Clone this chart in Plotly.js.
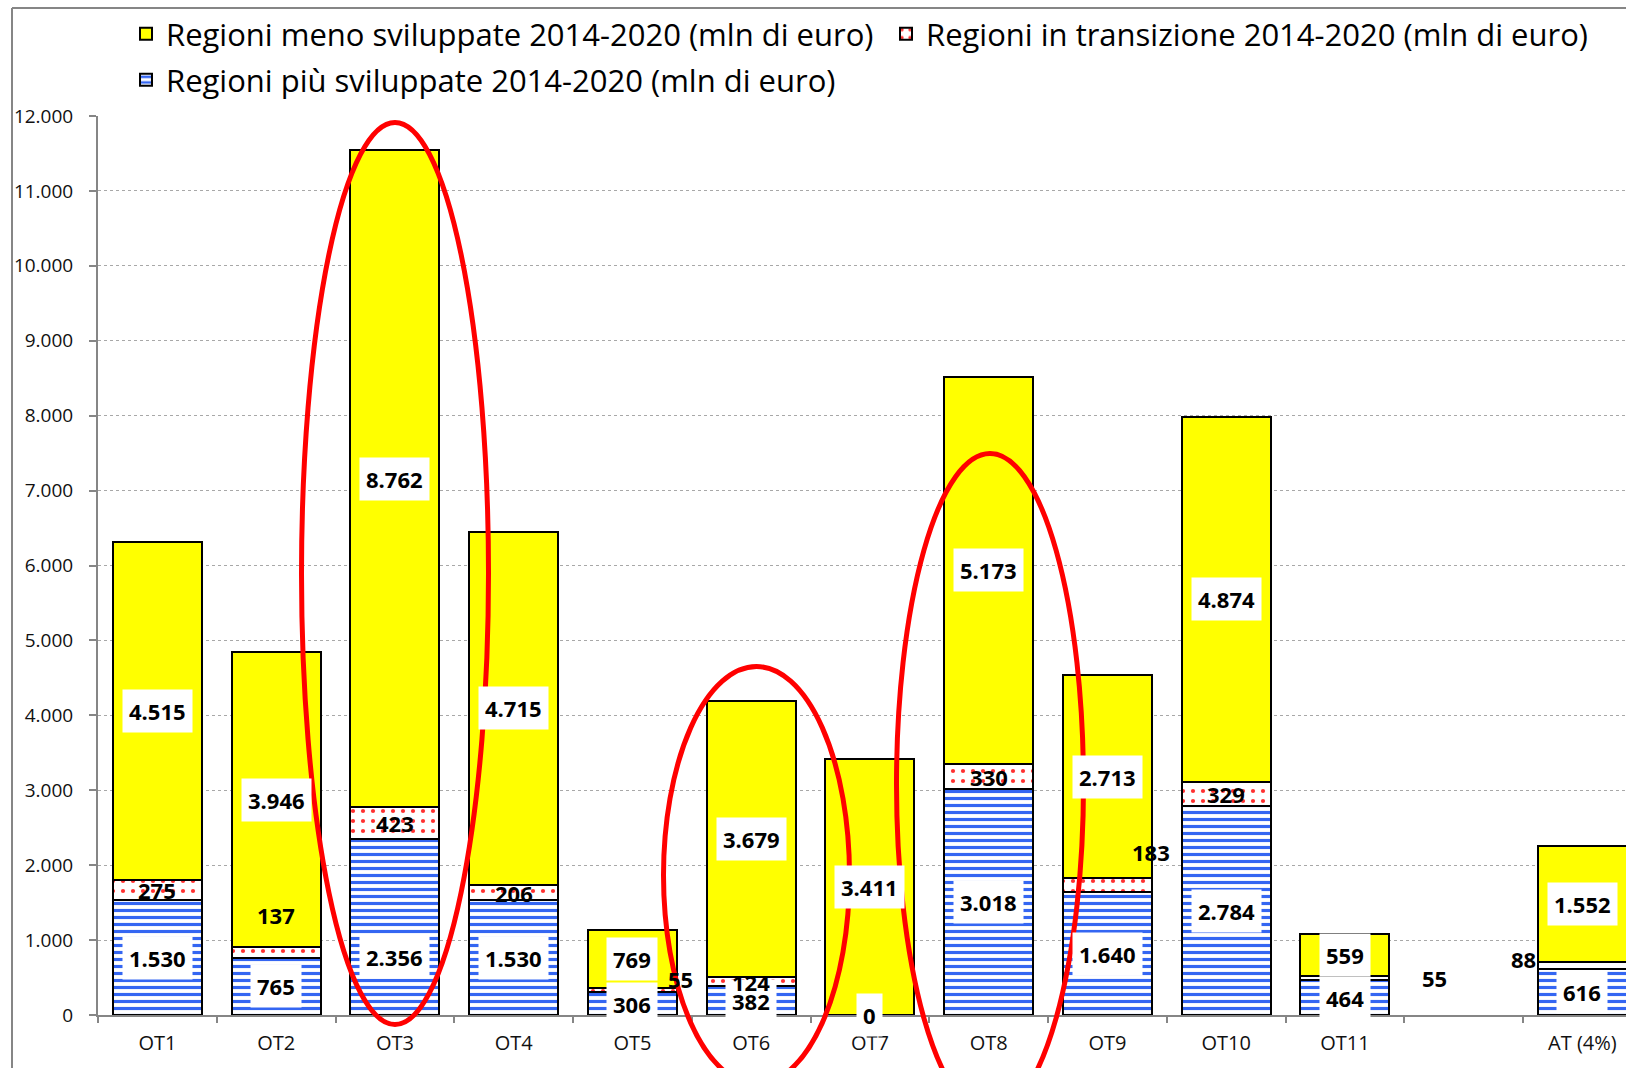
<!DOCTYPE html>
<html>
<head>
<meta charset="utf-8">
<script src="https://cdn.plot.ly/plotly-3.0.1.min.js"></script>
<style>
  html, body { margin: 0; padding: 0; background: #fff; overflow: hidden; }
  #chart { width: 1626px; height: 1068px; }
</style>
</head>
<body>
<div id="chart"></div>
<script>
// ---------- DATA ----------
const categories = ['OT1','OT2','OT3','OT4','OT5','OT6','OT7','OT8','OT9','OT10','OT11','\u00a0','AT (4%)'];
const piuSviluppate   = [1530, 765, 2356, 1530, 306, 382, 0, 3018, 1640, 2784, 464, null, 616];
const inTransizione   = [275, 137, 423, 206, 55, 124, 0, 330, 183, 329, 55, null, 88];
const menoSviluppate  = [4515, 3946, 8762, 4715, 769, 3679, 3411, 5173, 2713, 4874, 559, null, 1552];
const seriesNames = {
  meno: 'Regioni meno sviluppate 2014-2020 (mln di euro)',
  trans: 'Regioni in transizione 2014-2020 (mln di euro)',
  piu: 'Regioni più sviluppate 2014-2020 (mln di euro)'
};
const yTicks = [0,1000,2000,3000,4000,5000,6000,7000,8000,9000,10000,11000,12000];

// ---------- STYLE ----------
const FONT = 'Open Sans, Noto Sans, sans-serif';
const W = 1626, H = 1068;
const M = {l: 98, r: 0, t: 116, b: 53};
const plotW = W - M.l - M.r, plotH = H - M.t - M.b;
// label offsets (pixels) for labels moved away from their segment centre
const labelShift = {
  'trans|OT2': {x: 0, y: 38},
  'piu|OT3': {x: 0, y: -30},
  'trans|OT5': {x: 48, y: 11},
  'trans|OT9': {x: 44, y: 33},
  'trans|OT11': {x: 90, y: 0},
  'trans|AT (4%)': {x: -59, y: 7}
};

const fmt = v => String(v).replace(/\B(?=(\d{3})+(?!\d))/g, '.');

const traces = [
  {
    type: 'bar', name: seriesNames.piu, x: categories, y: piuSviluppate,
    legend: 'legend3',
    marker: {color: '#ffffff', line: {color: '#000', width: 2},
      pattern: {shape: '-', fgcolor: '#3466f2', bgcolor: '#ffffff', size: 7, solidity: 0.45}},
    hoverinfo: 'skip'
  },
  {
    type: 'bar', name: seriesNames.trans, x: categories, y: inTransizione,
    legend: 'legend2',
    marker: {color: '#ffffff', line: {color: '#000', width: 2},
      pattern: {shape: '.', fgcolor: '#ff3030', bgcolor: '#ffffff', size: 10, solidity: 0.14}},
    hoverinfo: 'skip'
  },
  {
    type: 'bar', name: seriesNames.meno, x: categories, y: menoSviluppate,
    legend: 'legend',
    marker: {color: '#ffff00', line: {color: '#000', width: 2}},
    hoverinfo: 'skip'
  }
];

// ---------- LABELS (from data) ----------
const annotations = [];
function addLabels(key, vals, bases, boxed, skipZero) {
  vals.forEach((v, i) => {
    if (v === null || v === undefined) return;
    if (skipZero && v === 0) return;
    const base = bases.reduce((s, arr) => s + (arr[i] || 0), 0);
    const sh = labelShift[key + '|' + categories[i]] || {x: 0, y: 0};
    annotations.push({
      x: categories[i], y: base + v / 2, xref: 'x', yref: 'y',
      text: fmt(v), showarrow: false,
      xshift: sh.x, yshift: sh.y,
      font: {family: FONT, size: 22, color: '#000', weight: 'bold'},
      bgcolor: boxed ? '#ffffff' : 'rgba(0,0,0,0)', borderpad: 6
    });
  });
}
addLabels('piu', piuSviluppate, [], true, false);
addLabels('trans', inTransizione, [piuSviluppate], false, true);
addLabels('meno', menoSviluppate, [piuSviluppate, inTransizione], true, false);

// ---------- ELLIPSES & FRAME (pixel -> paper) ----------
const px = x => (x - M.l) / plotW;
const py = y => (H - M.b - y) / plotH;
const ellipsesPx = [
  [301.5, 122.5, 488.5, 1024.5],
  [663.5, 666.5, 849.5, 1084],
  [896.5, 453.5, 1083.5, 1115]
];
const shapes = ellipsesPx.map(e => ({
  type: 'circle', xref: 'paper', yref: 'paper', layer: 'above',
  x0: px(e[0]), x1: px(e[2]), y0: py(e[3]), y1: py(e[1]),
  line: {color: '#ff0000', width: 5}, fillcolor: 'rgba(0,0,0,0)'
}));
shapes.push({type: 'line', xref: 'paper', yref: 'paper', layer: 'above',
  x0: px(12), x1: px(12), y0: py(8), y1: py(H + 5), line: {color: '#868686', width: 2}});
shapes.push({type: 'line', xref: 'paper', yref: 'paper', layer: 'above',
  x0: px(12), x1: px(W + 5), y0: py(8), y1: py(8), line: {color: '#868686', width: 2}});

const legendFont = {family: FONT, size: 31, color: '#000'};
const legendBase = {orientation: 'h', xref: 'container', yref: 'container',
  xanchor: 'left', yanchor: 'middle', bgcolor: 'rgba(0,0,0,0)', borderwidth: 0, font: legendFont};

const layout = {
  width: W, height: H,
  margin: {l: M.l, r: M.r, t: M.t, b: M.b, pad: 0},
  paper_bgcolor: '#ffffff', plot_bgcolor: '#ffffff',
  barmode: 'stack', bargap: 0.25,
  separators: ',.',
  showlegend: true,
  legend: Object.assign({}, legendBase, {x: 126 / W, y: 1 - 34 / H}),
  legend2: Object.assign({}, legendBase, {x: 886 / W, y: 1 - 34 / H}),
  legend3: Object.assign({}, legendBase, {x: 126 / W, y: 1 - 80 / H}),
  xaxis: {
    type: 'category', range: [-0.5, -0.5 + plotW / 118.75],
    showline: true, linecolor: '#868686', linewidth: 2,
    ticks: 'outside', tickson: 'boundaries', ticklen: 6, tickwidth: 2, tickcolor: '#868686',
    tickfont: {family: FONT, size: 20, color: '#111'}, ticklabelstandoff: 9,
    showgrid: false, zeroline: false, fixedrange: true
  },
  yaxis: {
    range: [0, 12000], tickvals: yTicks, tickformat: ',d',
    showline: true, linecolor: '#868686', linewidth: 2,
    ticks: 'outside', ticklen: 7, tickwidth: 2, tickcolor: '#868686',
    tickfont: {family: FONT, size: 19, color: '#111'}, ticklabelstandoff: 12,
    showgrid: true, gridcolor: '#a8a8a8', gridwidth: 1, griddash: 'dot',
    zeroline: false, fixedrange: true
  },
  annotations: annotations,
  shapes: shapes
};

Plotly.newPlot('chart', traces, layout, {staticPlot: true, displayModeBar: false}).then(gd => {
  // draw the red ellipses above the value labels, as in the reference
  const svgs = gd.querySelectorAll('svg.main-svg');
  if (svgs.length > 1) {
    const la = svgs[0].querySelector('.layer-above');
    if (la) svgs[svgs.length - 1].appendChild(la);
  }
});
</script>
</body>
</html>
